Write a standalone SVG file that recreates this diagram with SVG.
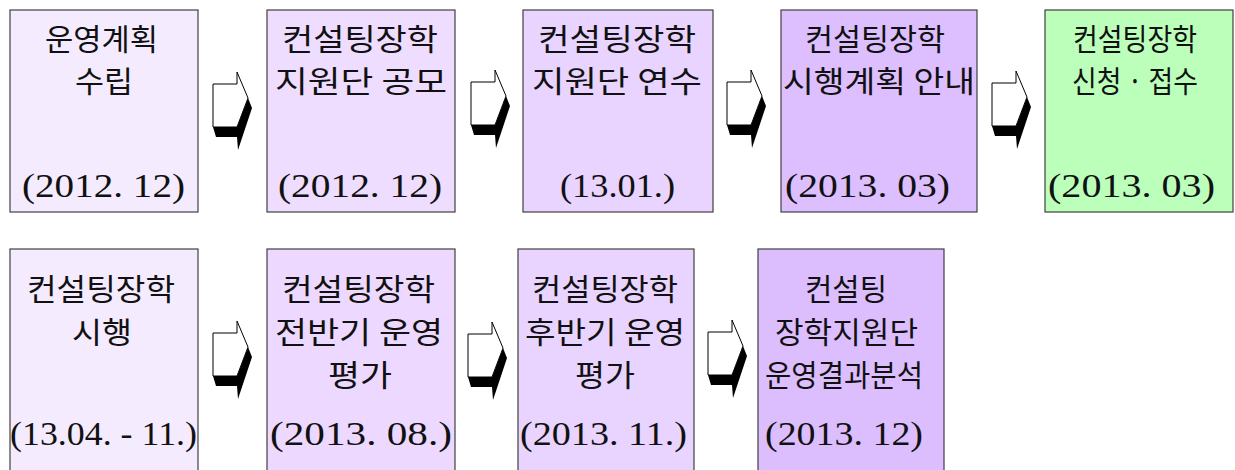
<svg xmlns="http://www.w3.org/2000/svg" xmlns:xlink="http://www.w3.org/1999/xlink" width="1235" height="470" viewBox="0 0 1235 470">
<style>
.box{stroke:#404040;stroke-width:1.2}
.kr{font-family:"Noto Sans CJK KR","Noto Sans",sans-serif;font-size:30px;fill:#111}
.dt{font-family:"Liberation Serif","DejaVu Serif",serif;font-size:34px;fill:#111}
.aw{fill:#fff;stroke:#000;stroke-width:1}
.ab{fill:#000}
</style>
<defs>
<g id="arrow">
<path class="ab" d="M0,55 H24 L35,26 L39,36 L25,78 L24,65 H3 Z"/>
<path class="aw" d="M0,12 H24 V0 L35,26 L24,55 H0 Z"/>
</g>
</defs>
<rect width="1235" height="470" fill="#fff"/>
<g id="connectors">
<use xlink:href="#arrow" x="213" y="72"/>
<use xlink:href="#arrow" x="471" y="70"/>
<use xlink:href="#arrow" x="727" y="70"/>
<use xlink:href="#arrow" x="992" y="71"/>
<use xlink:href="#arrow" x="213" y="321"/>
<use xlink:href="#arrow" x="468" y="322"/>
<use xlink:href="#arrow" x="708" y="320"/>
</g>
<g id="n1">
<rect class="box" x="10" y="10" width="188" height="202" fill="#F5EBFF"/>
<text class="kr" x="45" y="50" textLength="113" lengthAdjust="spacingAndGlyphs">운영계획</text>
<text class="kr" x="75" y="92" textLength="58" lengthAdjust="spacingAndGlyphs">수립</text>
<text class="dt" x="22" y="197" textLength="163" lengthAdjust="spacingAndGlyphs">(2012. 12)</text>
</g>
<g id="n2">
<rect class="box" x="267" y="10" width="188" height="202" fill="#EEDDFF"/>
<text class="kr" x="282" y="50" textLength="156" lengthAdjust="spacingAndGlyphs">컨설팅장학</text>
<text class="kr" x="275" y="92" textLength="172" lengthAdjust="spacingAndGlyphs">지원단 공모</text>
<text class="dt" x="278" y="197" textLength="164" lengthAdjust="spacingAndGlyphs">(2012. 12)</text>
</g>
<g id="n3">
<rect class="box" x="523" y="10" width="190" height="202" fill="#E8D4FF"/>
<text class="kr" x="538" y="50" textLength="158" lengthAdjust="spacingAndGlyphs">컨설팅장학</text>
<text class="kr" x="532" y="92" textLength="170" lengthAdjust="spacingAndGlyphs">지원단 연수</text>
<text class="dt" x="560" y="197" textLength="115" lengthAdjust="spacingAndGlyphs">(13.01.)</text>
</g>
<g id="n4">
<rect class="box" x="781" y="10" width="196" height="202" fill="#DDBEFF"/>
<text class="kr" x="805" y="50" textLength="140" lengthAdjust="spacingAndGlyphs">컨설팅장학</text>
<text class="kr" x="783" y="92" textLength="192" lengthAdjust="spacingAndGlyphs">시행계획 안내</text>
<text class="dt" x="785" y="197" textLength="165" lengthAdjust="spacingAndGlyphs">(2013. 03)</text>
</g>
<g id="n5">
<rect class="box" x="1045" y="10" width="188" height="202" fill="#BBFFBB"/>
<text class="kr" x="1073" y="50" textLength="124" lengthAdjust="spacingAndGlyphs">컨설팅장학</text>
<text class="kr" x="1072" y="92" textLength="126" lengthAdjust="spacingAndGlyphs">신청 · 접수</text>
<text class="dt" x="1048" y="197" textLength="167" lengthAdjust="spacingAndGlyphs">(2013. 03)</text>
</g>
<g id="n6">
<rect class="box" x="10" y="249" width="188" height="240" fill="#F5EBFF"/>
<text class="kr" x="27" y="300" textLength="148" lengthAdjust="spacingAndGlyphs">컨설팅장학</text>
<text class="kr" x="72" y="343" textLength="60" lengthAdjust="spacingAndGlyphs">시행</text>
<text class="dt" x="10" y="445" textLength="187" lengthAdjust="spacingAndGlyphs">(13.04. - 11.)</text>
</g>
<g id="n7">
<rect class="box" x="267" y="249" width="188" height="240" fill="#EDD9FF"/>
<text class="kr" x="282" y="300" textLength="153" lengthAdjust="spacingAndGlyphs">컨설팅장학</text>
<text class="kr" x="275" y="343" textLength="168" lengthAdjust="spacingAndGlyphs">전반기 운영</text>
<text class="kr" x="328" y="386" textLength="64" lengthAdjust="spacingAndGlyphs">평가</text>
<text class="dt" x="270" y="445" textLength="182" lengthAdjust="spacingAndGlyphs">(2013. 08.)</text>
</g>
<g id="n8">
<rect class="box" x="518" y="249" width="176" height="240" fill="#E8D4FF"/>
<text class="kr" x="532" y="300" textLength="146" lengthAdjust="spacingAndGlyphs">컨설팅장학</text>
<text class="kr" x="525" y="343" textLength="160" lengthAdjust="spacingAndGlyphs">후반기 운영</text>
<text class="kr" x="575" y="386" textLength="60" lengthAdjust="spacingAndGlyphs">평가</text>
<text class="dt" x="520" y="445" textLength="167" lengthAdjust="spacingAndGlyphs">(2013. 11.)</text>
</g>
<g id="n9">
<rect class="box" x="758" y="249" width="186" height="240" fill="#DCBEFF"/>
<text class="kr" x="805" y="300" textLength="82" lengthAdjust="spacingAndGlyphs">컨설팅</text>
<text class="kr" x="775" y="343" textLength="143" lengthAdjust="spacingAndGlyphs">장학지원단</text>
<text class="kr" x="765" y="386" textLength="158" lengthAdjust="spacingAndGlyphs">운영결과분석</text>
<text class="dt" x="765" y="445" textLength="158" lengthAdjust="spacingAndGlyphs">(2013. 12)</text>
</g>
</svg>
